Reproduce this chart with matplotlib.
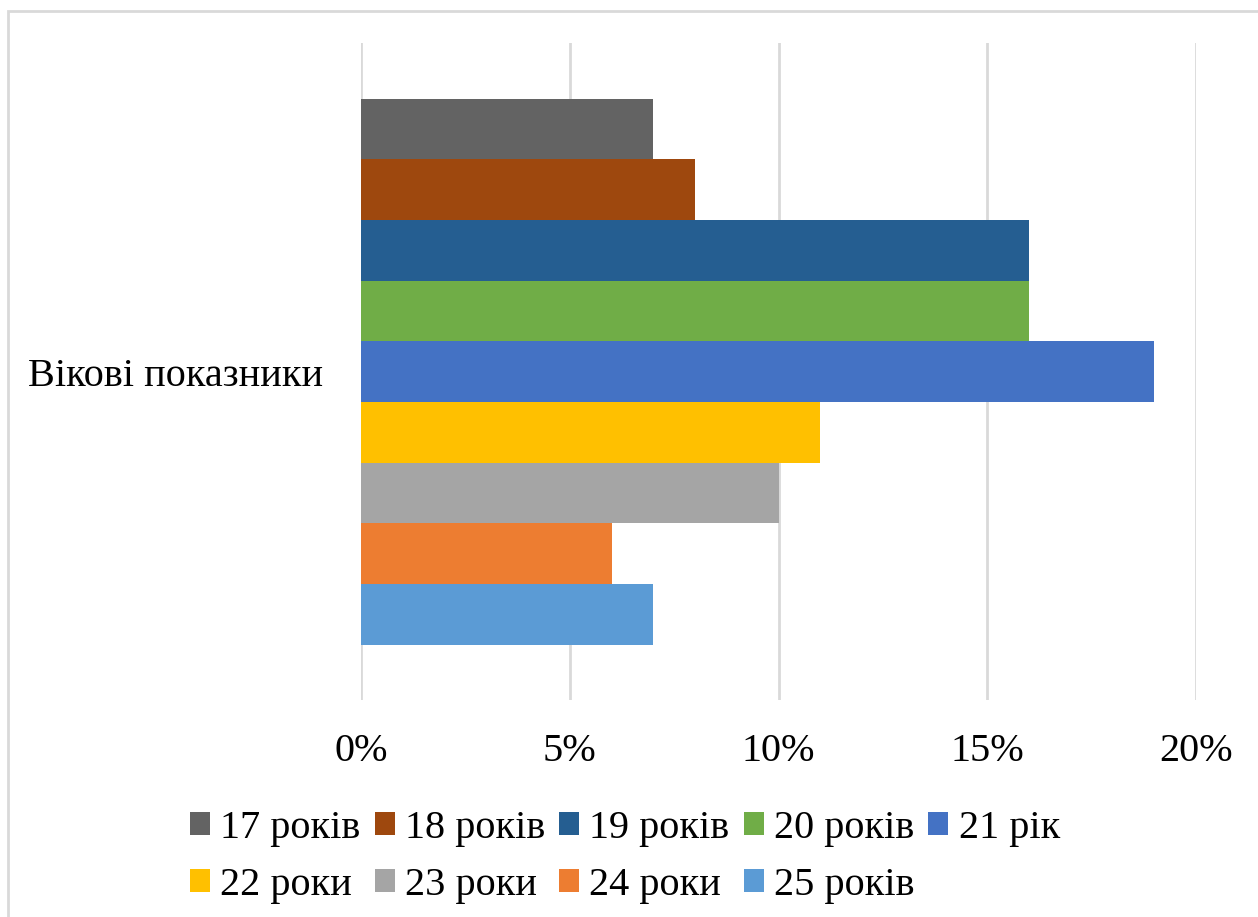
import numpy as np
import matplotlib.pyplot as plt
from matplotlib.patches import Rectangle

plt.rcParams['font.family'] = ['Liberation Serif', 'DejaVu Serif']

category = "Вікові показники"
series = ["17 років", "18 років", "19 років", "20 років", "21 рік",
          "22 роки", "23 роки", "24 роки", "25 років"]
values = [0.07, 0.08, 0.16, 0.16, 0.19, 0.11, 0.10, 0.06, 0.07]
colors = ["#636363", "#9E480E", "#255E91", "#70AD47", "#4472C4",
          "#FFC000", "#A5A5A5", "#ED7D31", "#5B9BD5"]
xticks = [0, 0.05, 0.10, 0.15, 0.20]

fig = plt.figure(figsize=(12.58, 9.17), dpi=100)
W, H = 1258, 917
ax = fig.add_axes([361 / W, 1 - 700 / H, (1196 - 361) / W, (700 - 43) / H])

n = len(series)
pos = np.arange(n)
bars = []
for i in range(n):
    bars.append(ax.barh(pos[i], values[i], height=1.0, color=colors[i],
                        label=series[i], zorder=3))

pad = (657 / 546 * n - n) / 2
ax.set_ylim(n - 0.5 + pad, -0.5 - pad)
ax.set_xlim(0, 0.20)
ax.set_xticks(xticks)
ax.set_xticklabels([f"{int(round(t * 100))}%" for t in xticks])
ax.set_yticks([(n - 1) / 2])
ax.set_yticklabels([category])
ax.tick_params(axis='both', length=0, labelsize=29, colors='#000000')
ax.tick_params(axis='x', pad=24)
ax.tick_params(axis='y', pad=27)
ax.grid(axis='x', color='#D9D9D9', linewidth=2, zorder=0)
for s in ax.spines.values():
    s.set_visible(False)

# legend filled row by row (matplotlib fills columns first)
ncol = 5
order = []
for c in range(ncol):
    for r in range(2):
        k = r * ncol + c
        if k < n:
            order.append(k)
fig.legend([bars[k] for k in order], [series[k] for k in order],
           loc='upper left', bbox_to_anchor=(190 / W, 1 - 810 / H), ncol=ncol,
           frameon=False, fontsize=29, handlelength=0.5, handleheight=0.5,
           handletextpad=0.25, columnspacing=0.35, labelspacing=0.5,
           borderaxespad=0, borderpad=0)

fig.patches.append(Rectangle((8 / W, -0.01), 1.2, 1 - 11 / H + 0.01,
                             transform=fig.transFigure, fill=False,
                             edgecolor='#D9D9D9', linewidth=2))

fig.savefig("out.png", dpi=100)
